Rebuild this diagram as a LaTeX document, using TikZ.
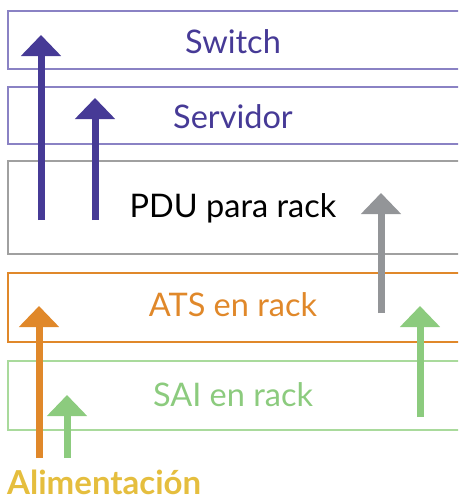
\documentclass[tikz,border=0pt]{standalone}
\usepackage{fontspec}
\setmainfont{Lato}
\usetikzlibrary{arrows.meta}
\definecolor{purp}{HTML}{463A96}
\definecolor{purpbox}{HTML}{8A82C4}
\definecolor{grayarr}{HTML}{939598}
\definecolor{graybox}{HTML}{A0A0A0}
\definecolor{orng}{HTML}{E0882A}
\definecolor{grn}{HTML}{8CCB7E}
\definecolor{grnbox}{HTML}{A9DA9C}
\definecolor{gold}{HTML}{E5BE3E}
\tikzset{
  layer/.style={draw, line width=2pt, anchor=north west, minimum width=480pt, inner sep=0pt},
  lbl/.style={font=\fontsize{32.5}{32.5}\selectfont, inner sep=0pt},
  uparrow/.style={line width=7pt, -{Triangle[width=39pt,length=21pt]}},
}
\begin{document}
\begin{tikzpicture}[x=1pt,y=-1pt]
\useasboundingbox (0,0) rectangle (458,498);
\begin{scope}
\clip (0,0) rectangle (458,498);
% layers
\node[layer, draw=purpbox, minimum height=58pt] (sw) at (7,10) {};
\node[layer, draw=purpbox, minimum height=57pt] (sv) at (7,86) {};
\node[layer, draw=graybox, minimum height=93pt] (pdu) at (7,160) {};
\node[layer, draw=orng, minimum height=69pt] (ats) at (7,272) {};
\node[layer, draw=grnbox, minimum height=69pt] (sai) at (7,360) {};
\end{scope}
% labels
\node[lbl, text=purp] (tsw) at (233,42) {Switch};
\node[lbl, text=purp] (tsv) at (233,117) {Servidor};
\node[lbl, text=black] (tpdu) at (233,208) {PDU para rack};
\node[lbl, text=orng] (tats) at (233,305) {ATS en rack};
\node[lbl, text=grn] (tsai) at (233,395) {SAI en rack};
\node[font=\fontsize{33}{33}\selectfont\bfseries, text=gold, anchor=base west, inner sep=0pt] (alim) at (7,494) {Alimentación};
% arrow endpoints
\coordinate (a1s) at (41,220); \coordinate (a1e) at (41,35);
\coordinate (a2s) at (95,220); \coordinate (a2e) at (95,98);
\coordinate (a3s) at (381,313); \coordinate (a3e) at (381,193);
\coordinate (a4s) at (39,458); \coordinate (a4e) at (39,306);
\coordinate (a5s) at (420,417); \coordinate (a5e) at (420,306);
\coordinate (a6s) at (67,458); \coordinate (a6e) at (67,395);
\draw[uparrow, purp] (a1s) -- (a1e);
\draw[uparrow, purp] (a2s) -- (a2e);
\draw[uparrow, grayarr] (a3s) -- (a3e);
\draw[uparrow, orng] (a4s) -- (a4e);
\draw[uparrow, grn] (a5s) -- (a5e);
\draw[uparrow, grn] (a6s) -- (a6e);
\end{tikzpicture}
\end{document}
